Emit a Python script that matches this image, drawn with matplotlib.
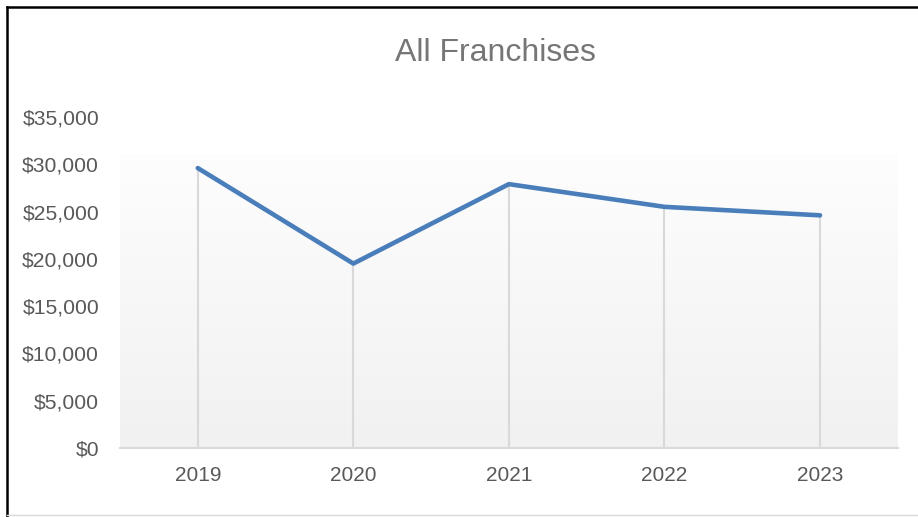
import numpy as np
import matplotlib
matplotlib.use("Agg")
import matplotlib.pyplot as plt
from matplotlib.lines import Line2D
from matplotlib.ticker import StrMethodFormatter

# datos del grafico
anios = ["2019", "2020", "2021", "2022", "2023"]
valores = [29600, 19500, 27900, 25500, 24600]
y_ticks = [0, 5000, 10000, 15000, 20000, 25000, 30000, 35000]

plt.rcParams['font.family'] = ['Liberation Sans', 'DejaVu Sans']

fig = plt.figure(figsize=(9.18, 5.17), dpi=100)
ax = fig.add_axes([0.1307, 0.1335, 0.8473, 0.6402])

x = np.arange(len(anios))

# fondo con degradado del area del grafico
grad = np.linspace(0.993, 0.945, 256).reshape(-1, 1)
grad = np.dstack([grad, grad, grad])
ax.imshow(grad, extent=(-0.5, len(anios) - 0.5, 0, 31000), aspect="auto", zorder=0)

# lineas de caida
ax.vlines(x, 0, valores, color="#d9d9d9", linewidth=1.5, zorder=1)
ax.plot(x, valores, color="#4a7ebb", linewidth=3.3, solid_capstyle="round", zorder=3)

ax.set_xlim(-0.5, len(anios) - 0.5)
ax.set_ylim(0, 35000)
ax.set_xticks(x)
ax.set_xticklabels(anios)
ax.set_yticks(y_ticks)
ax.yaxis.set_major_formatter(StrMethodFormatter("${x:,.0f}"))
ax.tick_params(axis="y", length=0, pad=15, labelsize=15.2, labelcolor="#595959")
ax.tick_params(axis="x", length=0, pad=13, labelsize=15, labelcolor="#595959")

for s in ["top", "right", "left"]:
    ax.spines[s].set_visible(False)
ax.spines["bottom"].set_color("#d9d9d9")
ax.spines["bottom"].set_linewidth(1.5)
ax.spines["bottom"].set_zorder(2)

fig.text(0.540, 0.897, "All Franchises", ha="center", va="center",
         fontsize=23, color="#767676")

# marco de la imagen
fig.add_artist(Line2D([0.0075, 0.0075], [0, 0.987], color="black", linewidth=1.8))
fig.add_artist(Line2D([0.0075, 1.0], [0.987, 0.987], color="black", linewidth=1.8))
fig.add_artist(Line2D([0.0075, 1.0], [0.004, 0.004], color="#d9d9d9", linewidth=1))

fig.savefig("out.png", dpi=100)
